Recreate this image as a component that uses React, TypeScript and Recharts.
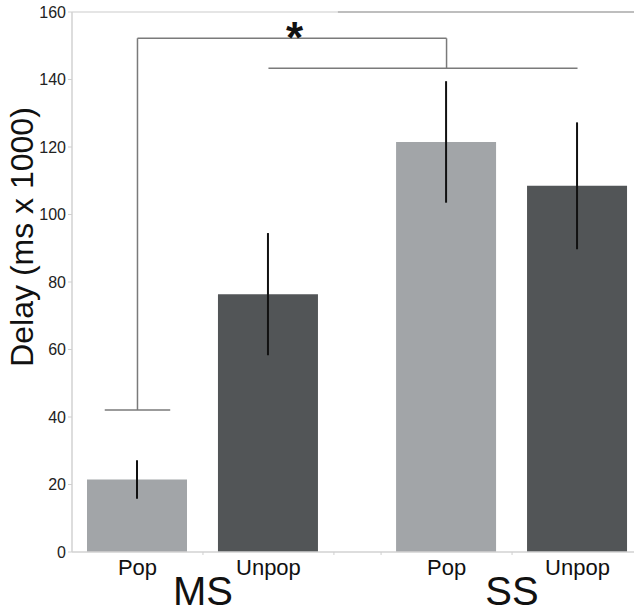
import { BarChart, Bar, Cell, ErrorBar, XAxis, YAxis, ReferenceLine, ReferenceDot } from "recharts";

const groups = ["MS", "SS"];
const conditions = ["Pop", "Unpop"];
// mean delay per bar, group-major (MS Pop, MS Unpop, SS Pop, SS Unpop)
const delayMean = [21.5, 76.4, 121.5, 108.5];
const delaySem = [5.7, 18.1, 18.0, 18.8];
const yTicks = [0, 20, 40, 60, 80, 100, 120, 140, 160];

// significance bracket levels (y values)
const bracketFoot = 42.1;
const bracketTop = 152.2;
const bracketLower = 143.3;
const starPos = { x: 1.7, y: 155.6 };

const GROUP_GAP = 0.36;
const FONT = "'Liberation Sans', Arial, Helvetica, sans-serif";
const barColors = ["#a2a5a8", "#525557"];

const slot = (g: number, c: number) => g * (conditions.length + GROUP_GAP) + c;

const data = groups.flatMap((group, g) =>
  conditions.map((cond, c) => ({
    name: `${group} ${cond}`,
    cond: c,
    pos: slot(g, c) + 0.5,
    mean: delayMean[g * conditions.length + c],
    sem: delaySem[g * conditions.length + c],
  }))
);

const xMax = slot(groups.length - 1, conditions.length);

// tick positions: bar centres carry condition labels, slot edges carry marks + group labels
const condAt: Record<string, string> = {};
const groupAt: Record<string, string> = {};
const xTicks: number[] = [];
groups.forEach((group, g) => {
  conditions.forEach((cond, c) => {
    const p = slot(g, c) + 0.5;
    condAt[p.toFixed(2)] = cond;
    xTicks.push(p);
    if (c > 0 || g > 0) xTicks.push(slot(g, c));
  });
  xTicks.push(slot(g, conditions.length));
  groupAt[slot(g, conditions.length / 2).toFixed(2)] = group;
});

function XTick(props: any) {
  const { x, y, payload } = props;
  const key = Number(payload.value).toFixed(2);
  if (condAt[key]) {
    return (
      <text x={x} y={y + 23} textAnchor="middle" fontSize={22} fontFamily={FONT} fill="#111">
        {condAt[key]}
      </text>
    );
  }
  return (
    <g>
      <line x1={x} x2={x} y1={y} y2={y + 3} stroke="#cfcfcf" />
      {groupAt[key] && (
        <text x={x} y={y + 53} textAnchor="middle" fontSize={40} fontFamily={FONT} fill="#111">
          {groupAt[key]}
        </text>
      )}
    </g>
  );
}

const msPop = data[0].pos;
const msUnpop = data[1].pos;
const ssPop = data[2].pos;
const ssUnpop = data[3].pos;

const bracketStroke = "#7a7a7a";

export default function App() {
  return (
    <div style={{ position: "fixed", left: 0, top: 0, width: 634, height: 613, overflow: "hidden", background: "#fff" }}>
      <BarChart width={680} height={613} data={data} margin={{ top: 12, right: 37, bottom: 0, left: 0 }}>
        <XAxis
          type="number"
          dataKey="pos"
          domain={[0, xMax]}
          ticks={xTicks}
          interval={0}
          height={61}
          tick={<XTick />}
          tickLine={false}
          tickSize={0}
          tickMargin={0}
          axisLine={{ stroke: "#d2d2d2", strokeWidth: 1.5 }}
        />
        <YAxis
          type="number"
          domain={[0, 160]}
          ticks={yTicks}
          interval={0}
          width={72}
          tickSize={4}
          tickMargin={2}
          tick={{ fontSize: 16, fill: "#222", fontFamily: FONT }}
          tickLine={{ stroke: "#cfcfcf" }}
          axisLine={{ stroke: "#d2d2d2", strokeWidth: 1.5 }}
          label={{
            content: () => (
              <text transform="translate(33,237) rotate(-90)" textAnchor="middle" fontSize={32} fontFamily={FONT} fill="#111">
                Delay (ms x 1000)
              </text>
            ),
          }}
        />
        <ReferenceLine segment={[{ x: 0, y: 160 }, { x: 2.03, y: 160 }]} stroke="#dcdcdc" strokeWidth={1.5} />
        <ReferenceLine segment={[{ x: 2.03, y: 160 }, { x: xMax, y: 160 }]} stroke="#a8a8a8" strokeWidth={1.5} />
        <Bar dataKey="mean" barSize={100} isAnimationActive={false}>
          {data.map((d) => (
            <Cell key={d.name} fill={barColors[d.cond]} />
          ))}
          <ErrorBar dataKey="sem" direction="y" width={0} stroke="#111" strokeWidth={2} isAnimationActive={false} />
        </Bar>
        <ReferenceLine segment={[{ x: msPop - 0.25, y: bracketFoot }, { x: msPop + 0.25, y: bracketFoot }]} stroke={bracketStroke} strokeWidth={1.5} />
        <ReferenceLine segment={[{ x: msPop, y: bracketFoot }, { x: msPop, y: bracketTop }]} stroke={bracketStroke} strokeWidth={1.5} />
        <ReferenceLine segment={[{ x: msPop, y: bracketTop }, { x: ssPop, y: bracketTop }]} stroke={bracketStroke} strokeWidth={1.5} />
        <ReferenceLine segment={[{ x: ssPop, y: bracketTop }, { x: ssPop, y: bracketLower }]} stroke={bracketStroke} strokeWidth={1.5} />
        <ReferenceLine segment={[{ x: msUnpop, y: bracketLower }, { x: ssUnpop, y: bracketLower }]} stroke={bracketStroke} strokeWidth={1.5} />
        <ReferenceDot
          x={starPos.x}
          y={starPos.y}
          r={0}
          fill="none"
          stroke="none"
          label={{
            content: (p: any) => {
              const vb = p.viewBox || {};
              const cx = (vb.x ?? 0) + (vb.width ?? 0) / 2;
              const cy = (vb.y ?? 0) + (vb.height ?? 0) / 2;
              return (
                <text x={cx} y={cy + 26} textAnchor="middle" fontSize={44} fontWeight="bold" fontFamily={FONT} fill="#111">
                  *
                </text>
              );
            },
          }}
        />
      </BarChart>
    </div>
  );
}
